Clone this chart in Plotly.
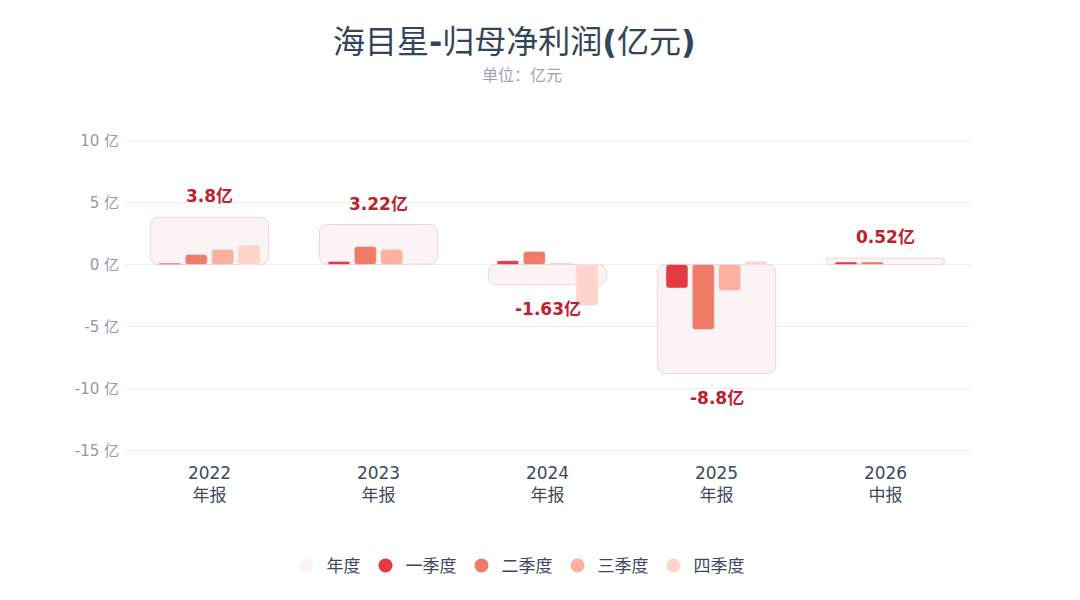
import plotly.graph_objects as go

# data (亿元)
years = ["2022", "2023", "2024", "2025", "2026"]
report_types = ["年报", "年报", "年报", "年报", "中报"]
annual = [3.8, 3.22, -1.63, -8.8, 0.52]
q1 = [0.1, 0.25, 0.3, -1.9, 0.2]
q2 = [0.8, 1.45, 1.05, -5.25, 0.2]
q3 = [1.2, 1.2, 0.1, -2.1, None]
q4 = [1.55, 0.08, -3.3, 0.25, None]
y_ticks = [-15, -10, -5, 0, 5, 10]

quarter_names = ["一季度", "二季度", "三季度", "四季度"]
quarter_colors = ["#e63946", "#f07b67", "#fcb0a0", "#ffd4cc"]
annual_color = "#fcf3f4"
label_color = "#c0202e"
font_family = "DejaVu Sans, Noto Sans CJK SC, sans-serif"

cats = [f"{y}<br>{t}" for y, t in zip(years, report_types)]

# page has an 8px body margin, so pull everything up/left a bit;
# y range padded a little so the 10 / -15 gridlines get drawn
L, T, PW, PH = 117, 131, 845, 313


def base_of(vals):
    return [min(v, 0) if v is not None else None for v in vals]


def height_of(vals):
    return [abs(v) if v is not None else None for v in vals]


fig = go.Figure()

# annual backdrop bar
fig.add_trace(go.Bar(
    x=cats, y=height_of(annual), base=base_of(annual),
    width=0.7, offset=-0.35,
    marker=dict(color=annual_color, line=dict(color="#f6d3d8", width=1), cornerradius=8),
    showlegend=False, hoverinfo="skip",
))

bar_w = 0.13
step = 0.156
for k, (name, vals, col) in enumerate(zip(quarter_names, [q1, q2, q3, q4], quarter_colors)):
    center = (k - 1.5) * step
    fig.add_trace(go.Bar(
        x=cats, y=height_of(vals), base=base_of(vals),
        width=bar_w, offset=center - bar_w / 2,
        marker=dict(color=col, cornerradius=3),
        name=name, showlegend=False,
    ))

# legend entries with round markers
for name, col in zip(["年度"] + quarter_names, [annual_color] + quarter_colors):
    fig.add_trace(go.Scatter(
        x=[None], y=[None], mode="markers", name=name,
        marker=dict(color=col, size=14, symbol="circle"),
    ))

# annual labels
for c, v in zip(cats, annual):
    fig.add_annotation(
        x=c, y=v, text=f"<b>{v:g}亿</b>", showarrow=False,
        yanchor="middle", yshift=21 if v >= 0 else -24,
        font=dict(color=label_color, size=17, family=font_family),
    )

# title and subtitle, placed in pixels from the top of the figure
fig.add_annotation(
    xref="paper", yref="paper", x=(514 - 125) / PW, y=1 + (T - 34) / PH,
    text="海目星<b>-</b>归母净利润<b>(</b>亿元<b>)</b>", showarrow=False,
    xanchor="center", yanchor="middle",
    font=dict(size=32, color="#34455a", family=font_family),
)
fig.add_annotation(
    xref="paper", yref="paper", x=(522 - 125) / PW, y=1 + (T - 68) / PH,
    text="单位：亿元", showarrow=False, xanchor="center", yanchor="middle",
    font=dict(size=16, color="#9aa5b8", family=font_family),
)

fig.update_layout(
    width=1080, height=600,
    barmode="overlay",
    paper_bgcolor="white", plot_bgcolor="white",
    font=dict(family=font_family, color="#3d4a5c"),
    margin=dict(l=L, r=1080 - L - PW, t=T, b=600 - T - PH, autoexpand=False),
    legend=dict(
        orientation="h", x=(518 - 125) / PW, xanchor="center",
        y=-(558 - T - PH) / PH, yanchor="middle",
        font=dict(size=17, color="#3d4a5c"), itemwidth=30,
    ),
    xaxis=dict(
        showgrid=False, showline=False, zeroline=False, ticks="",
        tickfont=dict(size=17, color="#3d4a5c"), ticklabelstandoff=9,
    ),
    yaxis=dict(
        range=[-15.12, 10.12], tickvals=y_ticks, ticktext=[f"{t} 亿" for t in y_ticks],
        gridcolor="#eceef2", zeroline=True, zerolinecolor="#eceef2", zerolinewidth=1,
        tickfont=dict(size=15, color="#8e9bb2"), ticklabelstandoff=5,
    ),
)

fig.write_html("out.html")
